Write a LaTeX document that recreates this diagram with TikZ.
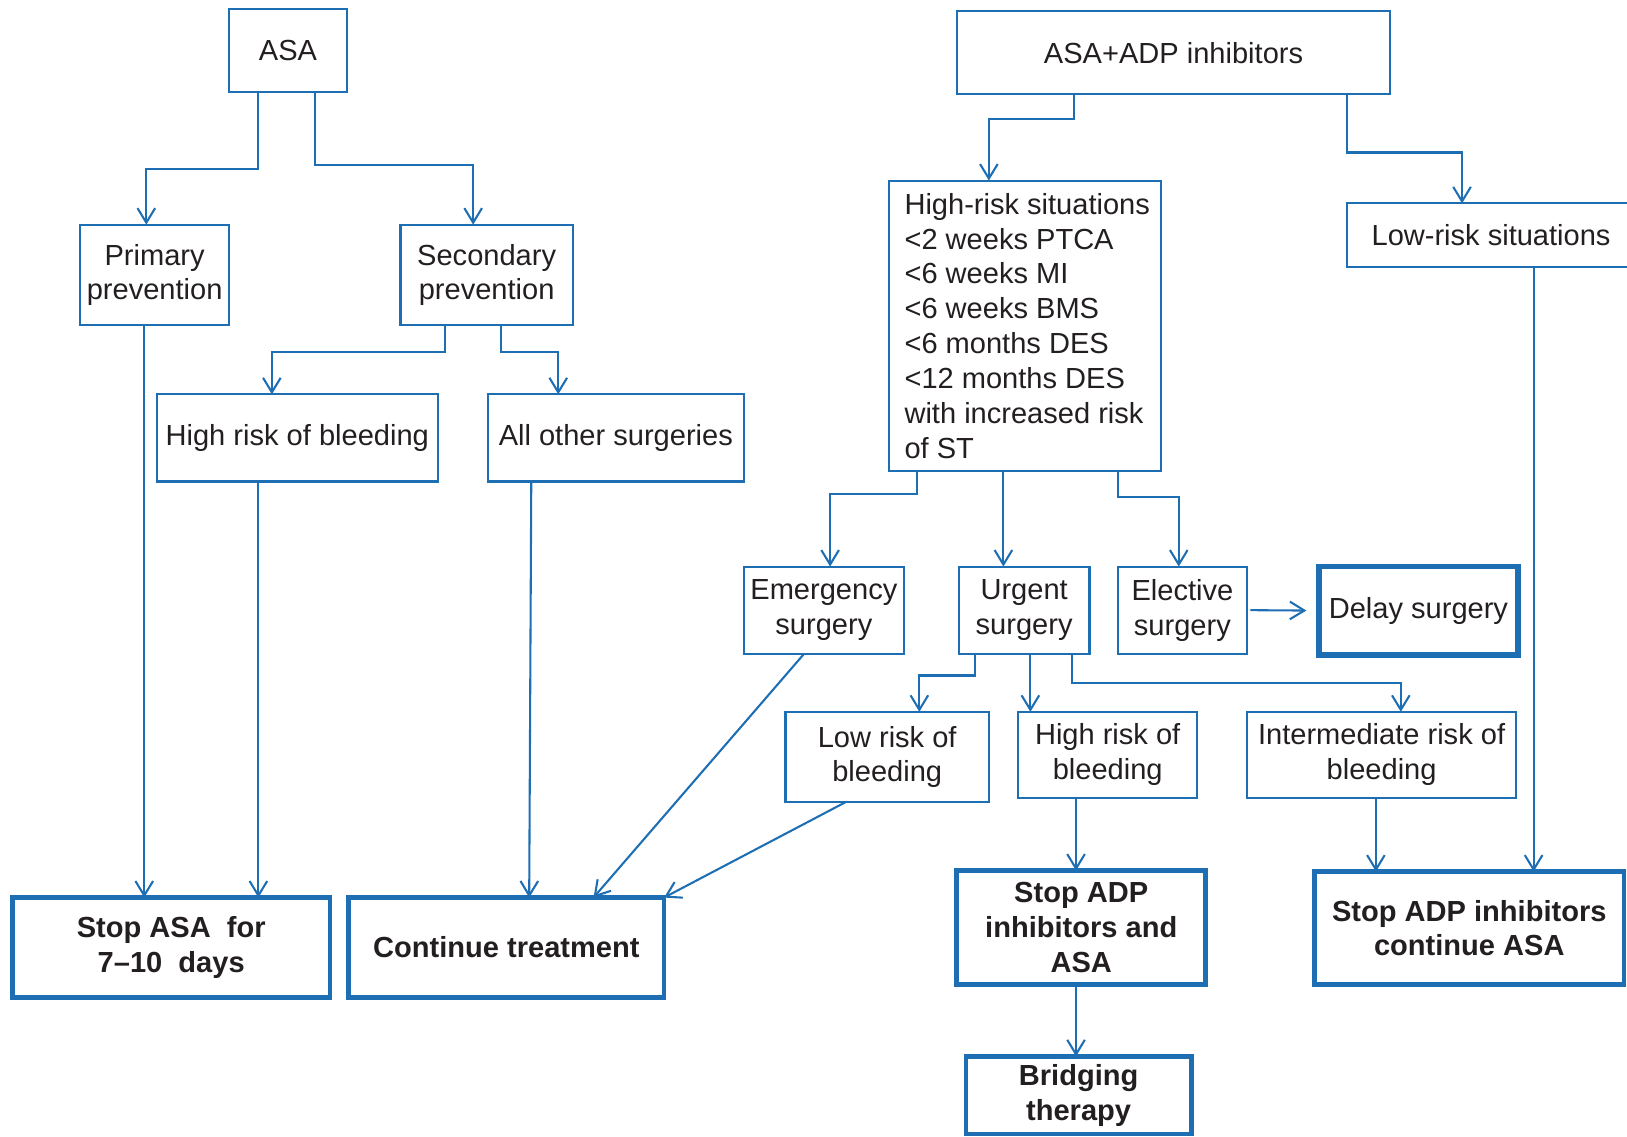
\documentclass[tikz,border=0pt]{standalone}
\usepackage{fontspec}
\setmainfont{Liberation Sans}
\usetikzlibrary{arrows.meta,calc}
\definecolor{fblue}{RGB}{30,110,180}
\definecolor{ftext}{RGB}{35,31,32}
\begin{document}
\begin{tikzpicture}[x=1pt,y=1pt,
  box/.style={draw=fblue, line width=2pt, rectangle, inner sep=0pt, outer sep=0pt, align=center, text=ftext, font=\fontsize{28}{33.6}\selectfont},
  bbox/.style={box, line width=4.5pt, font=\fontsize{28}{33.6}\selectfont\bfseries},
  arr/.style={draw=fblue, line width=2pt, -{Straight Barb[length=14pt,width=17pt]}},
]
\useasboundingbox (0,0) rectangle (1568,-1095);
% left tree
\node[box, minimum width=113pt, minimum height=80pt] (asa) at (277.5,-49) {ASA};
\node[box, minimum width=144pt, minimum height=97pt] (prim) at (149,-265) {Primary\\prevention};
\node[box, minimum width=166pt, minimum height=97pt] (sec) at (469,-265) {Secondary\\prevention};
\node[box, minimum width=271pt, minimum height=84pt] (hrb1) at (286.5,-422) {High risk of bleeding};
\node[box, minimum width=247pt, minimum height=84pt] (aos) at (593.5,-422) {All other surgeries};
\node[bbox, minimum width=306pt, minimum height=96pt] (stopasa) at (165,-913) {Stop ASA\ \ for\\7–10\ \ days};
\node[bbox, minimum width=304pt, minimum height=96pt] (cont) at (488,-913) {Continue treatment};
% right tree
\node[box, minimum width=418pt, minimum height=80pt] (adp) at (1131,-51) {ASA+ADP inhibitors};
\node[box, minimum width=262pt, minimum height=280pt, align=left] (hrs) at (988,-314) {\hspace*{4pt}High-risk situations\\\hspace*{4pt}<2 weeks PTCA\\\hspace*{4pt}<6 weeks MI\\\hspace*{4pt}<6 weeks BMS\\\hspace*{4pt}<6 months DES\\\hspace*{4pt}<12 months DES\\\hspace*{4pt}with increased risk\\\hspace*{4pt}of ST};
\node[box, minimum width=278pt, minimum height=61pt] (lrs) at (1437,-226.5) {Low-risk situations};
\node[box, minimum width=154pt, minimum height=84pt] (emer) at (794,-588) {Emergency\\surgery};
\node[box, minimum width=126pt, minimum height=84pt] (urg) at (987,-588) {Urgent\\surgery};
\node[box, minimum width=125pt, minimum height=84pt] (elec) at (1139.5,-588) {Elective\\surgery};
\node[box, line width=5.5pt, minimum width=192pt, minimum height=85pt] (delay) at (1367,-588.5) {Delay surgery};
\node[box, minimum width=196pt, minimum height=87pt] (lrb) at (855,-729.5) {Low risk of\\bleeding};
\node[box, minimum width=173pt, minimum height=83pt] (hrb2) at (1067.5,-727.5) {High risk of\\bleeding};
\node[box, minimum width=259pt, minimum height=83pt] (irb) at (1331.5,-727.5) {Intermediate risk of\\bleeding};
\node[bbox, minimum width=240pt, minimum height=110pt] (stopboth) at (1042,-894) {Stop ADP\\inhibitors and\\ASA};
\node[bbox, minimum width=298pt, minimum height=109pt] (stopadp) at (1416,-894.5) {Stop ADP inhibitors\\continue ASA};
\node[bbox, minimum width=217pt, minimum height=75pt] (bridge) at (1039.5,-1055.5) {Bridging\\therapy};
% connectors left
\draw[arr] ($(asa.south west)+(28,0)$) -- ++(0,-74) -| ($(prim.north west)+(64,0)$);
\draw[arr] ($(asa.south west)+(83,0)$) -- ++(0,-70) -| ($(sec.north west)+(70,0)$);
\draw[arr] ($(sec.south west)+(43,0)$) -- ++(0,-26) -| ($(hrb1.north west)+(111,0)$);
\draw[arr] ($(sec.south west)+(97,0)$) -- ++(0,-26) -| ($(aos.north west)+(68,0)$);
\draw[arr] ($(prim.south west)+(62,0)$) -- ($(stopasa.north west)+(127,0)$);
\draw[arr] ($(hrb1.south west)+(98,0)$) -- ($(stopasa.north west)+(237,0)$);
\draw[arr] ($(aos.south west)+(42,0)$) -- ($(cont.north west)+(174,0)$);
\draw[arr] ($(emer.south west)+(58,0)$) -- ($(cont.north west)+(236,0)$);
\draw[arr] ($(lrb.south west)+(58,0)$) -- (cont.north east);
% connectors right
\draw[arr] ($(adp.south west)+(113,0)$) -- ++(0,-24) -| ($(hrs.north west)+(96,0)$);
\draw[arr] ($(adp.south west)+(376,0)$) -- ++(0,-56) -| ($(lrs.north west)+(111,0)$);
\draw[arr] ($(lrs.south west)+(180,0)$) -- ($(stopadp.north west)+(211,0)$);
\draw[arr] ($(hrs.south west)+(27,0)$) -- ++(0,-22) -| ($(emer.north west)+(83,0)$);
\draw[arr] ($(hrs.south west)+(110,0)$) -- ($(urg.north west)+(43,0)$);
\draw[arr] ($(hrs.south west)+(220,0)$) -- ++(0,-25) -| ($(elec.north west)+(59,0)$);
\draw[arr, shorten <=3pt, shorten >=12pt] (elec.east) -- (delay.west);
\draw[arr] ($(urg.south west)+(16,0)$) -- ++(0,-21) -| ($(lrb.north west)+(129,0)$);
\draw[arr] ($(urg.south west)+(69,0)$) -- ($(hrb2.north west)+(12,0)$);
\draw[arr] ($(urg.south west)+(109,0)$) -- ++(0,-28) -| ($(irb.north west)+(148,0)$);
\draw[arr] ($(hrb2.south west)+(56,0)$) -- ($(stopboth.north west)+(115,0)$);
\draw[arr] ($(irb.south west)+(124,0)$) -- ($(stopadp.north west)+(59,0)$);
\draw[arr] ($(stopboth.south west)+(115,0)$) -- ($(bridge.north west)+(106,0)$);
\end{tikzpicture}
\end{document}
